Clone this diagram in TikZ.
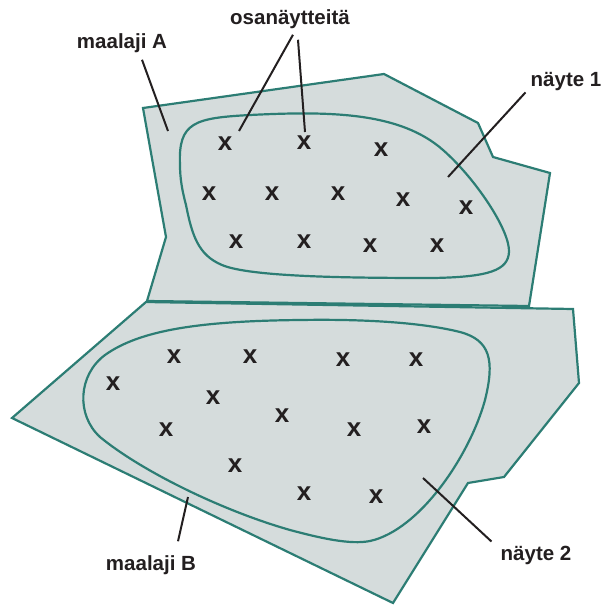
\documentclass[tikz,border=0pt]{standalone}
\usepackage{fontspec}
\setmainfont{Liberation Sans}
\usepackage{xcolor}
\usetikzlibrary{positioning,calc}
\definecolor{soilfill}{RGB}{213,220,220}
\definecolor{soiledge}{RGB}{44,125,116}
\definecolor{inkdark}{RGB}{35,31,32}

\begin{document}
\begin{tikzpicture}[x=1pt, y=-1pt,
  soil/.style={draw=soiledge, fill=soilfill, line width=2.2pt, line join=miter},
  sample/.style={draw=soiledge, line width=2.2pt},
  cross/.style={inkdark, font=\fontsize{26}{26}\selectfont\bfseries, inner sep=0pt},
  lbl/.style={inkdark, font=\fontsize{20.5}{24}\selectfont\bfseries, inner sep=0pt},
  lead/.style={inkdark, line width=2pt}
]
\useasboundingbox (0,0) rectangle (601,605);
% soil type A
\draw[soil] (143,108) -- (384,74) -- (478,123) -- (493,157) -- (550,173)
  -- (529,306) -- (147,301) -- (166,237) -- cycle;
% soil type B
\draw[soil] (146,302) -- (573,309) -- (579,383) -- (504,477) -- (468,483)
  -- (393,603) -- (12,418) -- cycle;
% sample 1
\draw[sample] (180,165) .. controls (178,122) and (195,118) .. (250,115)
  .. controls (330,111) and (400,112) .. (443,150)
  .. controls (475,178) and (510,230) .. (509,252)
  .. controls (508,270) and (490,277) .. (433,278)
  .. controls (350,278) and (250,277) .. (222,265)
  .. controls (198,255) and (192,235) .. (186,205)
  .. controls (182,190) and (180,178) .. (180,165) -- cycle;
% sample 2
\draw[sample] (300,320) .. controls (200,321) and (140,330) .. (105,355)
  .. controls (78,375) and (76,415) .. (100,437)
  .. controls (140,470) and (220,510) .. (290,530)
  .. controls (320,538) and (350,545) .. (370,541)
  .. controls (420,530) and (470,455) .. (485,400)
  .. controls (495,360) and (490,340) .. (460,332)
  .. controls (420,322) and (360,319) .. (300,320) -- cycle;
% subsamples
\foreach \p [count=\i] in {(225,144),(304,143),(381,150),(209,194),(272,194),
  (338,194),(403,200),(466,208),(236,242),(304,242),(370,246),(437,246)}
  \node[cross] (a\i) at \p {x};
\foreach \p [count=\i] in {(174,357),(250,357),(343,360),(416,360),(113,384),
  (213,398),(282,416),(166,430),(354,430),(424,427),(235,466),(304,494),(376,497)}
  \node[cross] (b\i) at \p {x};
% labels
\node[lbl] (soilA) at (122,43) {maalaji A};
\node[lbl] (subs) at (290,19) {osanäytteitä};
\node[lbl] (smp1) at (566,82) {näyte 1};
\node[lbl] (soilB) at (151,565) {maalaji B};
\node[lbl] (smp2) at (536,555) {näyte 2};
% leader lines
\coordinate (soilAend) at (168,131);
\coordinate (subsend1) at (239,131);
\coordinate (subsend2) at (305,132);
\coordinate (smp1end) at (448,177);
\coordinate (soilBend) at (188,497);
\coordinate (smp2end) at (423,478);
\draw[lead] ([shift={(20,7)}]soilA.south) -- (soilAend);
\draw[lead] ([shift={(3,6)}]subs.south) -- (subsend1);
\draw[lead] ([shift={(8,11)}]subs.south) -- (subsend2);
\draw[lead] ([shift={(-5,1)}]smp1.south west) -- (smp1end);
\draw[lead] ([shift={(27,-14)}]soilB.north) -- (soilBend);
\draw[lead] ([shift={(-9,-4)}]smp2.north west) -- (smp2end);
\end{tikzpicture}
\end{document}
